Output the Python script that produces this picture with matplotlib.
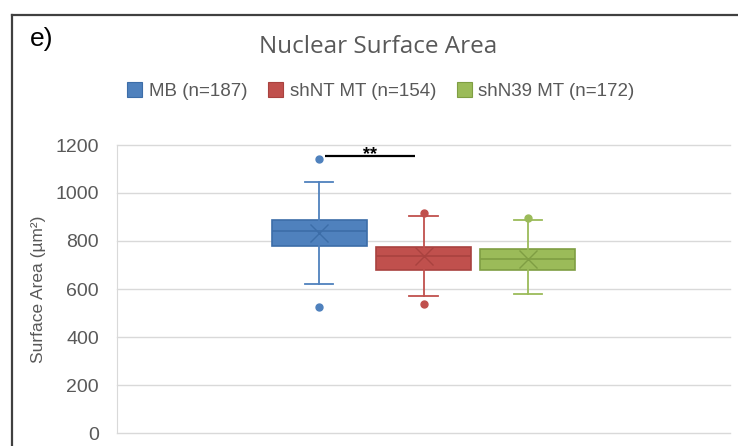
import matplotlib.pyplot as plt
from matplotlib.lines import Line2D
from matplotlib.patches import Patch

plt.rcParams['font.family'] = ['Liberation Sans', 'DejaVu Sans']

# values (surface area, um^2)
groups = ['MB (n=187)', 'shNT MT (n=154)', 'shN39 MT (n=172)']
q1 = [779, 679, 679]
medians = [842, 737, 725]
q3 = [887, 776, 766]
means = [833, 737, 725]
whis_lo = [621, 571, 579]
whis_hi = [1047, 904, 887]
outliers = [[526, 1142], [537, 916], [895]]

fill_colors = ['#4F81BD', '#C0504D', '#9BBB59']
edge_colors = ['#3C6DA8', '#A9423F', '#7F9E43']
yticks = [0, 200, 400, 600, 800, 1000, 1200]

fig = plt.figure(figsize=(7.38, 4.46), dpi=100)
ax = fig.add_axes([117 / 738, 1 - 433 / 446, 613 / 738, 288 / 446])

offsets = [-0.17, 0.0, 0.17]
for i in range(3):
    stats = [dict(q1=q1[i], med=medians[i], q3=q3[i], mean=means[i],
                  whislo=whis_lo[i], whishi=whis_hi[i], fliers=outliers[i])]
    ax.bxp(stats, positions=[offsets[i]], widths=0.155, capwidths=0.046,
           showmeans=True, patch_artist=True, manage_ticks=False,
           boxprops=dict(facecolor=fill_colors[i], edgecolor=edge_colors[i], lw=1.2),
           medianprops=dict(color=edge_colors[i], lw=1.2),
           whiskerprops=dict(color=fill_colors[i], lw=1.3),
           capprops=dict(color=fill_colors[i], lw=1.3),
           meanprops=dict(marker='x', markersize=13, markeredgewidth=1.0,
                          markeredgecolor=edge_colors[i]),
           flierprops=dict(marker='o', markersize=5, markerfacecolor=fill_colors[i],
                           markeredgecolor=fill_colors[i]))

# significance bar between MB and shNT
ax.plot([-0.161, -0.014], [1154, 1154], color='black', lw=1.6, solid_capstyle='butt')
ax.text(-0.088, 1142, '**', ha='center', va='baseline', fontsize=13,
        fontweight='bold', color='black')

ax.set_xlim(-0.5, 0.5)
ax.set_ylim(0, 1200)
ax.set_yticks(yticks)
ax.set_xticks([])
ax.tick_params(axis='y', length=0, pad=13, labelsize=14, labelcolor='#595959')
ax.grid(axis='y', color='#D9D9D9', lw=1)
ax.set_axisbelow(True)
for s in ['top', 'right', 'bottom']:
    ax.spines[s].set_visible(False)
ax.spines['left'].set_color('#D9D9D9')
ax.set_ylabel('Surface Area (µm²)', fontsize=12.5, color='#595959')
ax.yaxis.set_label_coords(-0.116, 0.5)
for gl in ax.get_ygridlines():
    gl.set_clip_on(False)

fig.text(378 / 738, 1 - 47 / 446, 'Nuclear Surface Area', ha='center', va='center',
         fontsize=17.5, color='#595959', family=['Open Sans', 'DejaVu Sans'])
fig.text(30 / 738, 1 - 39 / 446, 'e)', ha='left', va='center', fontsize=19,
         color='black')

handles = [Patch(facecolor=c, edgecolor=e, lw=0.8) for c, e in zip(fill_colors, edge_colors)]
fig.legend(handles, groups, loc='center', bbox_to_anchor=(381 / 738, 1 - 91 / 446),
           ncol=3, frameon=False, fontsize=13.5, labelcolor='#595959',
           handlelength=0.8, handleheight=0.8, handletextpad=0.35, columnspacing=1.1)

# outer frame of the panel (cut off at right and bottom)
fig.add_artist(Line2D([12 / 738, 12 / 738], [0, 1 - 15 / 446], color='#404040',
                      lw=1.6, transform=fig.transFigure))
fig.add_artist(Line2D([12 / 738, 1], [1 - 15 / 446, 1 - 15 / 446], color='#404040',
                      lw=1.6, transform=fig.transFigure))

fig.savefig('out.png', dpi=100)
